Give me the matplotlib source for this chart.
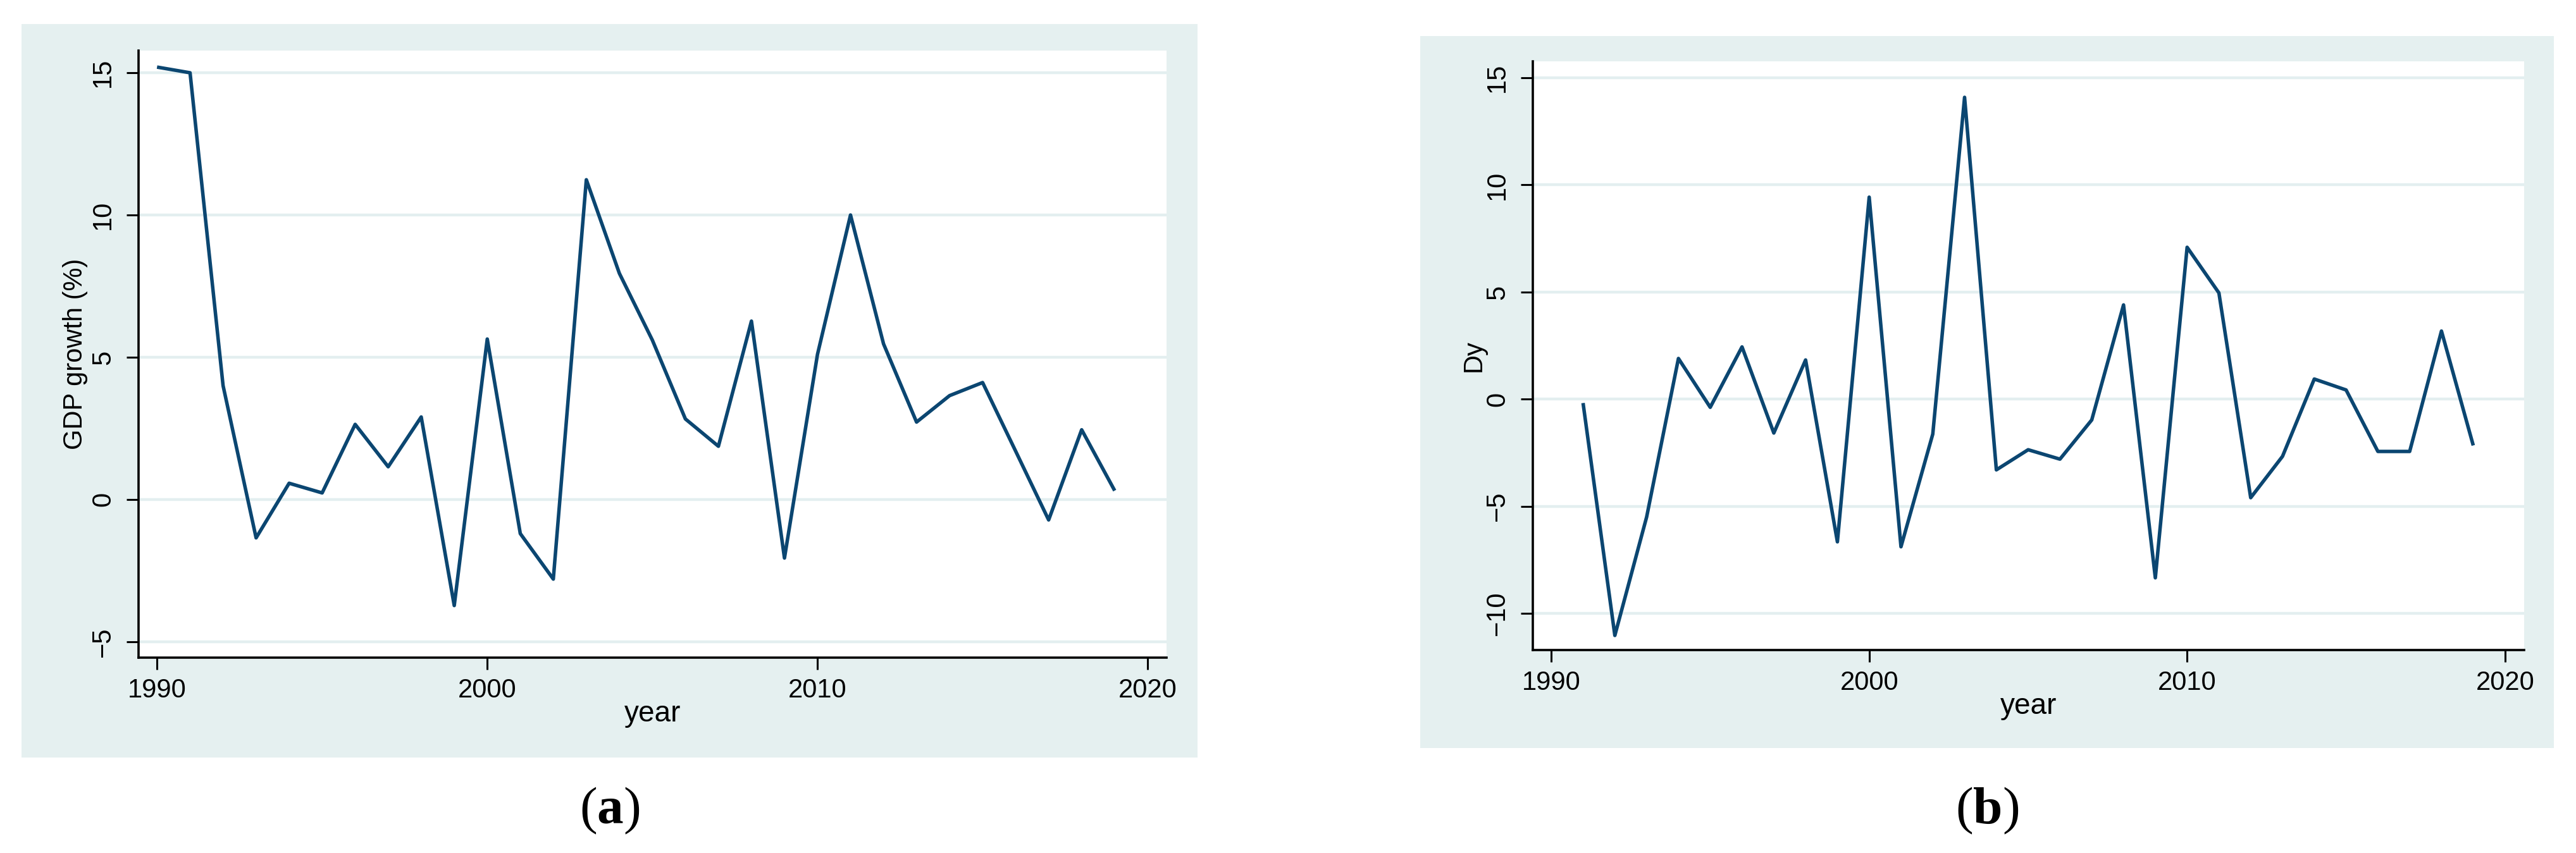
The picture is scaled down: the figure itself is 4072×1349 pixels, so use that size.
import matplotlib.pyplot as plt
import matplotlib.patches as patches

W, H = 4072, 1349

# panel (a): GDP growth
years_a = list(range(1990, 2020))
gdp_growth = [15.2, 15.0, 4.0, -1.35, 0.57, 0.23, 2.64, 1.15, 2.9, -3.73,
              5.64, -1.2, -2.8, 11.24, 7.95, 5.6, 2.83, 1.87, 6.27, -2.06,
              5.1, 10.0, 5.47, 2.72, 3.65, 4.11, 1.7, -0.72, 2.45, 0.31]

# panel (b): first difference
years_b = list(range(1991, 2020))
dy = [-0.18, -11.03, -5.5, 1.9, -0.38, 2.44, -1.58, 1.83, -6.66, 9.43,
      -6.89, -1.63, 14.09, -3.3, -2.36, -2.8, -0.97, 4.4, -8.34, 7.09,
      4.96, -4.6, -2.67, 0.94, 0.43, -2.44, -2.44, 3.18, -2.16]

x_ticks = [1990, 2000, 2010, 2020]
y_ticks_a = [-5, 0, 5, 10, 15]
y_ticks_b = [-10, -5, 0, 5, 10, 15]

bg_col = '#e5f0f0'
grid_col = '#e3eff0'
line_col = '#0b4671'

plt.rcParams['font.family'] = ['Liberation Sans', 'DejaVu Sans']
plt.rcParams['mathtext.fontset'] = 'custom'
plt.rcParams['mathtext.rm'] = 'Liberation Serif'
plt.rcParams['mathtext.bf'] = 'Liberation Serif:bold'

fig = plt.figure(figsize=(W / 100, H / 100), dpi=100)


def px(x, y):
    return x / W, 1 - y / H


def panel(bg, box, xs, ys, xlim, ylim, yticks, ylabel, ylab_x, caption):
    # grey graph region
    bx0, by0 = px(bg[0], bg[3])
    rect = patches.Rectangle((bx0, by0), (bg[2] - bg[0]) / W, (bg[3] - bg[1]) / H,
                             transform=fig.transFigure, facecolor=bg_col,
                             edgecolor='none', zorder=-5)
    fig.patches.append(rect)

    l, t, r, b = box
    ax = fig.add_axes([l / W, 1 - b / H, (r - l) / W, (b - t) / H])
    ax.set_zorder(2)
    ax.set_facecolor('white')
    ax.plot(xs, ys, color=line_col, lw=4.0, solid_joinstyle='round',
            solid_capstyle='butt', zorder=3)
    ax.set_xlim(*xlim)
    ax.set_ylim(*ylim)
    ax.set_xticks(x_ticks)
    ax.set_yticks(yticks)
    for v in yticks:
        ax.axhline(v, color=grid_col, lw=3.2, zorder=1)

    for s in ['top', 'right']:
        ax.spines[s].set_visible(False)
    for s in ['left', 'bottom']:
        ax.spines[s].set_linewidth(2.6)
        ax.spines[s].set_color('black')

    ax.tick_params(axis='both', length=14, width=2.2, color='black',
                   labelsize=30, direction='out')
    ax.tick_params(axis='x', pad=9)
    ax.tick_params(axis='y', pad=12)
    for lab in ax.get_yticklabels():
        lab.set_rotation(90)
        lab.set_va('center')

    cx = (l + r) / 2
    fig.text(*px(cx, b + 101), 'year', fontsize=33, ha='center', va='baseline')
    fig.text(*px(ylab_x, (t + b) / 2), ylabel, fontsize=30, rotation=90,
             ha='center', va='center')
    fig.text(*px((bg[0] + bg[2]) / 2, 1282), caption, fontsize=60,
             ha='center', va='center')
    return ax


panel((34, 38, 1893, 1198), (219, 80, 1844, 1040), years_a, gdp_growth,
      (1989.44, 2020.57), (-5.56, 15.78), y_ticks_a, 'GDP growth (%)', 119,
      r'$(\mathbf{a})$')
panel((2245, 57, 4037, 1183), (2423, 97, 3990, 1028), years_b, dy,
      (1989.42, 2020.6), (-11.71, 15.77), y_ticks_b, 'Dy', 2330,
      r'$(\mathbf{b})$')

fig.savefig('out.png', dpi=100, facecolor='white')
